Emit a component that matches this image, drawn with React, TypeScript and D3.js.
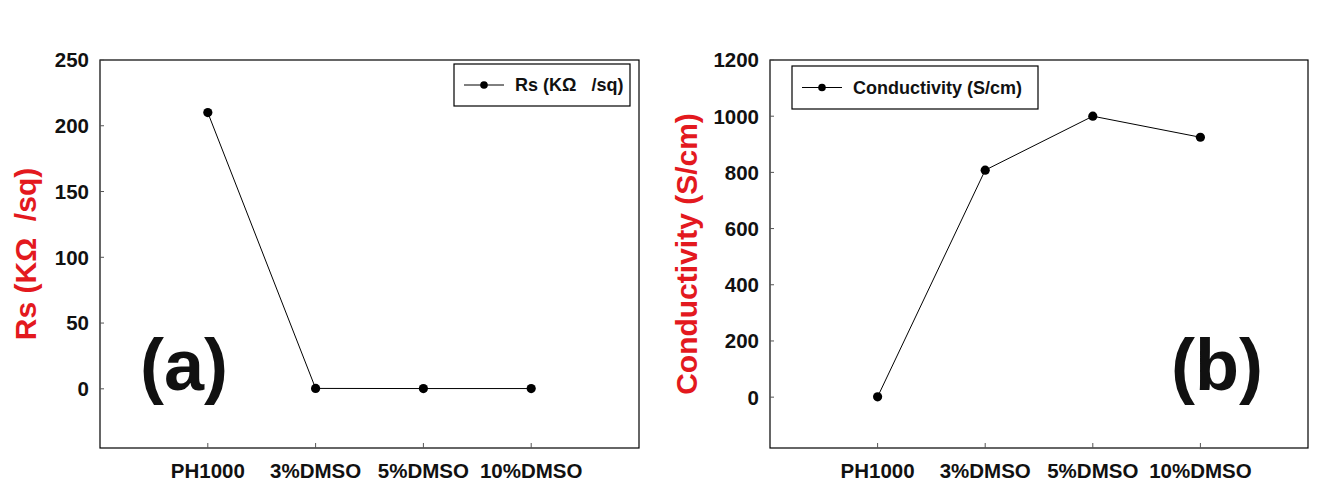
import React from "react";
import * as d3 from "d3";

const categories = ["PH1000", "3%DMSO", "5%DMSO", "10%DMSO"];
const rsValues = [210, 0.3, 0.2, 0.2];
const condValues = [1, 808, 1000, 925];
const rsTicks = [0, 50, 100, 150, 200, 250];
const condTicks = [0, 200, 400, 600, 800, 1000, 1200];

const FONT = "'Liberation Sans', Arial, sans-serif";
const RED = "#e3191e";

type PanelProps = {
  left: number;
  right: number;
  top: number;
  bottom: number;
  values: number[];
  yDomain: [number, number];
  ticks: number[];
  yTitle: string;
  titleX: number;
  legendText: string;
  legendBox: [number, number, number, number];
  tag: string;
  tagX: number;
};

function Panel(p: PanelProps) {
  const x = d3.scaleLinear().domain([-1, 4]).range([p.left, p.right]);
  const y = d3.scaleLinear().domain(p.yDomain).range([p.bottom, p.top]);
  const line = d3
    .line<number>()
    .x((_, i) => x(i))
    .y((d) => y(d));
  const [lx0, ly0, lx1, ly1] = p.legendBox;
  const lcy = (ly0 + ly1) / 2;
  return (
    <g>
      <rect
        x={p.left}
        y={p.top}
        width={p.right - p.left}
        height={p.bottom - p.top}
        fill="none"
        stroke="#000"
        strokeWidth={1.2}
      />
      {p.ticks.map((t) => (
        <g key={t}>
          <line x1={p.left} x2={p.left + 4} y1={y(t)} y2={y(t)} stroke="#555" strokeWidth={1} />
          <text
            x={p.left - 11}
            y={y(t)}
            dy="0.36em"
            textAnchor="end"
            fontFamily={FONT}
            fontWeight="bold"
            fontSize={20.5}
            fill="#111"
          >
            {t}
          </text>
        </g>
      ))}
      {categories.map((c, i) => (
        <g key={c}>
          <line x1={x(i)} x2={x(i)} y1={p.bottom} y2={p.bottom - 5} stroke="#555" strokeWidth={1} />
          <text
            x={x(i)}
            y={478}
            textAnchor="middle"
            fontFamily={FONT}
            fontWeight="bold"
            fontSize={20.5}
            fill="#111"
          >
            {c}
          </text>
        </g>
      ))}
      <path d={line(p.values) || ""} fill="none" stroke="#000" strokeWidth={1} />
      {p.values.map((v, i) => (
        <circle key={i} cx={x(i)} cy={y(v)} r={4.6} fill="#000" />
      ))}
      <text
        transform={`translate(${p.titleX},${(p.top + p.bottom) / 2}) rotate(-90)`}
        textAnchor="middle"
        dy="0.36em"
        fontFamily={FONT}
        fontWeight="bold"
        fontSize={30}
        fill={RED}
        style={{ whiteSpace: "pre" }}
      >
        {p.yTitle}
      </text>
      <rect
        x={lx0}
        y={ly0}
        width={lx1 - lx0}
        height={ly1 - ly0}
        fill="#fff"
        stroke="#000"
        strokeWidth={1.2}
      />
      <line x1={lx0 + 10} x2={lx0 + 50} y1={lcy} y2={lcy} stroke="#000" strokeWidth={1} />
      <circle cx={lx0 + 30} cy={lcy} r={3.8} fill="#000" />
      <text
        x={lx0 + 61}
        y={lcy}
        dy="0.36em"
        fontFamily={FONT}
        fontWeight="bold"
        fontSize={18}
        fill="#111"
        style={{ whiteSpace: "pre" }}
      >
        {p.legendText}
      </text>
      <text
        x={p.tagX}
        y={390}
        textAnchor="middle"
        fontFamily={FONT}
        fontWeight="bold"
        fontSize={72}
        fill="#111"
      >
        {p.tag}
      </text>
    </g>
  );
}

export default function App() {
  return (
    <svg width={1341} height={502} style={{ display: "block", position: "absolute", left: 0, top: 0, background: "#fff" }}>
      <rect width={1341} height={502} fill="#fff" />
      <Panel
        left={100}
        right={639}
        top={60}
        bottom={448}
        values={rsValues}
        yDomain={[-45, 250]}
        ticks={rsTicks}
        yTitle={"Rs (KΩ  /sq)"}
        titleX={25}
        legendText={"Rs (KΩ   /sq)"}
        legendBox={[454, 64, 630, 106]}
        tag="(a)"
        tagX={184}
      />
      <Panel
        left={770}
        right={1308}
        top={60}
        bottom={448}
        values={condValues}
        yDomain={[-181, 1200]}
        ticks={condTicks}
        yTitle={"Conductivity (S/cm)"}
        titleX={686}
        legendText={"Conductivity (S/cm)"}
        legendBox={[792, 66, 1038, 109]}
        tag="(b)"
        tagX={1217}
      />
    </svg>
  );
}
